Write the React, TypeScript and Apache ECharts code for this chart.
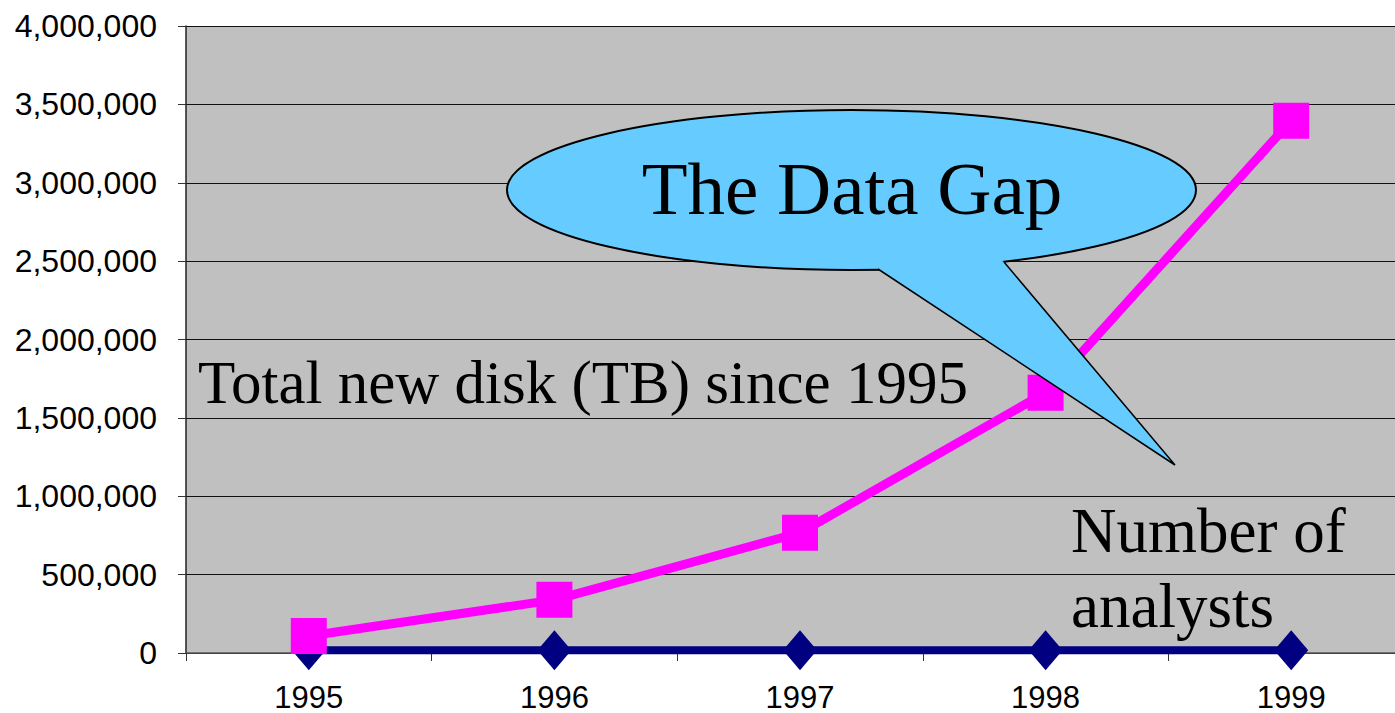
import React, { useEffect, useRef } from "react";
import * as echarts from "echarts";

const years = ["1995", "1996", "1997", "1998", "1999"];
const totalNewDiskTB = [108000, 339000, 767000, 1661000, 3396000];
const numberOfAnalysts = [18000, 18000, 18000, 18000, 18000];
const yTicks = { min: 0, max: 4000000, interval: 500000 };

const calloutTitle = "The Data Gap";
const diskLabel = "Total new disk (TB) since 1995";
const analystLabel = ["Number of", "analysts"];

export default function App() {
  const ref = useRef<HTMLDivElement>(null);
  useEffect(() => {
    if (!ref.current) return;
    const chart = echarts.init(ref.current, undefined, { renderer: "svg" });
    const serif = "'Liberation Serif', 'Times New Roman', serif";
    const sans = "'Liberation Sans', Arial, sans-serif";
    chart.setOption({
      animation: false,
      grid: {
        left: 186,
        top: 26,
        width: 1228,
        height: 627,
        outerBoundsMode: "none",
        containLabel: false,
        show: true,
        backgroundColor: "#C0C0C0",
        borderWidth: 0,
      },
      xAxis: {
        type: "category",
        data: years,
        boundaryGap: true,
        axisLine: { show: true, lineStyle: { color: "#555", width: 1.5 } },
        axisTick: { show: true, length: 8, lineStyle: { color: "#333" } },
        axisLabel: {
          color: "#000",
          fontSize: 31,
          lineHeight: 24,
          fontFamily: sans,
          margin: 32,
        },
        splitLine: { show: false },
      },
      yAxis: {
        type: "value",
        min: yTicks.min,
        max: yTicks.max,
        interval: yTicks.interval,
        axisLine: { show: true, lineStyle: { color: "#222", width: 1.5 } },
        axisTick: { show: true, length: 8, lineStyle: { color: "#333" } },
        axisLabel: {
          color: "#000",
          fontSize: 32,
          fontFamily: sans,
          margin: 29,
          formatter: (v: number) => v.toLocaleString("en-US"),
        },
        splitLine: { show: true, lineStyle: { color: "#111", width: 1 } },
      },
      series: [
        {
          name: "Number of analysts",
          type: "line",
          data: numberOfAnalysts,
          symbol: "diamond",
          symbolSize: [34, 40],
          lineStyle: { color: "#000080", width: 8 },
          itemStyle: { color: "#000080" },
          z: 2,
        },
        {
          name: "Total new disk (TB) since 1995",
          type: "line",
          data: totalNewDiskTB,
          symbol: "rect",
          symbolSize: 36,
          lineStyle: { color: "#FF00FF", width: 9 },
          itemStyle: { color: "#FF00FF" },
          z: 3,
        },
      ],
      graphic: [
        {
          type: "ellipse",
          shape: { cx: 851.5, cy: 190, rx: 344.5, ry: 80 },
          style: { fill: "#66CCFF", stroke: "#000", lineWidth: 2 },
          z: 100,
        },
        {
          type: "polygon",
          shape: {
            points: [
              [878, 269],
              [1175, 465],
              [1004, 262],
              [980, 250],
              [900, 255],
            ],
          },
          style: { fill: "#66CCFF", stroke: null },
          z: 101,
        },
        {
          type: "polyline",
          shape: { points: [[878, 269], [1175, 465], [1004, 262]] },
          style: { stroke: "#000", lineWidth: 1.5, fill: null },
          z: 102,
        },
        {
          type: "text",
          x: 852,
          y: 188,
          style: {
            text: calloutTitle,
            font: `75px ${serif}`,
            fill: "#000",
            textAlign: "center",
            textVerticalAlign: "middle",
          },
          z: 103,
        },
        {
          type: "text",
          x: 198,
          y: 382,
          style: {
            text: diskLabel,
            font: `61px ${serif}`,
            fill: "#000",
            textAlign: "left",
            textVerticalAlign: "middle",
          },
          z: 103,
        },
        {
          type: "text",
          x: 1071,
          y: 531,
          style: {
            text: analystLabel[0],
            font: `63px ${serif}`,
            fill: "#000",
            textAlign: "left",
            textVerticalAlign: "middle",
          },
          z: 103,
        },
        {
          type: "text",
          x: 1071,
          y: 606,
          style: {
            text: analystLabel[1],
            font: `63px ${serif}`,
            fill: "#000",
            textAlign: "left",
            textVerticalAlign: "middle",
          },
          z: 103,
        },
      ],
    });
    return () => chart.dispose();
  }, []);
  return (
    <div
      ref={ref}
      style={{ position: "fixed", left: 0, top: 0, width: 1395, height: 713, background: "#fff" }}
    />
  );
}
